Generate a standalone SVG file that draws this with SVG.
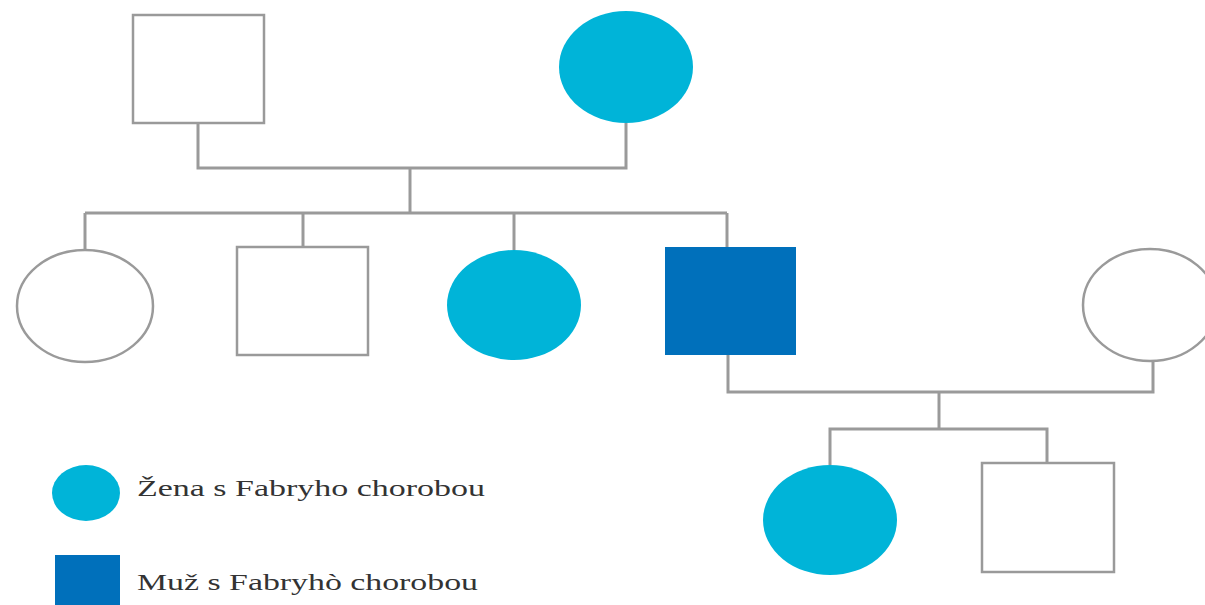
<svg xmlns="http://www.w3.org/2000/svg" width="1205" height="605" viewBox="0 0 1205 605">
<style>
.line{fill:none;stroke:#9a9a9a;stroke-width:3}
.open{fill:#ffffff;stroke:#9a9a9a;stroke-width:2.5}
.fem{fill:#00b4d8}
.male{fill:#0070bb}
.lbl{font-family:"Liberation Serif","Times New Roman",serif;font-size:24px;fill:#333333}
</style>
<rect width="1205" height="605" fill="#ffffff"/>
<g id="connectors">
<polyline class="line" points="198,123 198,168 626,168 626,123"/>
<line class="line" x1="410" y1="168" x2="410" y2="213"/>
<line class="line" x1="85" y1="213" x2="727" y2="213"/>
<line class="line" x1="85" y1="213" x2="85" y2="250"/>
<line class="line" x1="303" y1="213" x2="303" y2="247"/>
<line class="line" x1="514" y1="213" x2="514" y2="250"/>
<line class="line" x1="727" y1="213" x2="727" y2="247"/>
<polyline class="line" points="728,355 728,392 1153,392 1153,360"/>
<line class="line" x1="939" y1="392" x2="939" y2="429"/>
<polyline class="line" points="830,465 830,429 1047,429 1047,463"/>
</g>
<g id="grandfather"><rect class="open" x="133" y="15" width="131" height="108"/></g>
<g id="grandmother"><ellipse class="fem" cx="626" cy="67" rx="67" ry="56"/></g>
<g id="child1"><ellipse class="open" cx="85" cy="306" rx="68" ry="56"/></g>
<g id="child2"><rect class="open" x="237" y="247" width="131" height="108"/></g>
<g id="child3"><ellipse class="fem" cx="514" cy="305" rx="67" ry="55"/></g>
<g id="child4"><rect class="male" x="665" y="247" width="131" height="108"/></g>
<g id="spouse"><ellipse class="open" cx="1150" cy="305" rx="67" ry="56"/></g>
<g id="grandchild1"><ellipse class="fem" cx="830" cy="520" rx="67" ry="55"/></g>
<g id="grandchild2"><rect class="open" x="982" y="463" width="132" height="109"/></g>
<g id="legend">
<ellipse class="fem" cx="86" cy="493" rx="34" ry="28"/>
<rect class="male" x="55" y="555" width="65" height="55"/>
<text class="lbl" x="137" y="496" textLength="348" lengthAdjust="spacingAndGlyphs">Žena s Fabryho chorobou</text>
<text class="lbl" x="137" y="590" textLength="341" lengthAdjust="spacingAndGlyphs">Muž s Fabryhò chorobou</text>
</g>
</svg>
